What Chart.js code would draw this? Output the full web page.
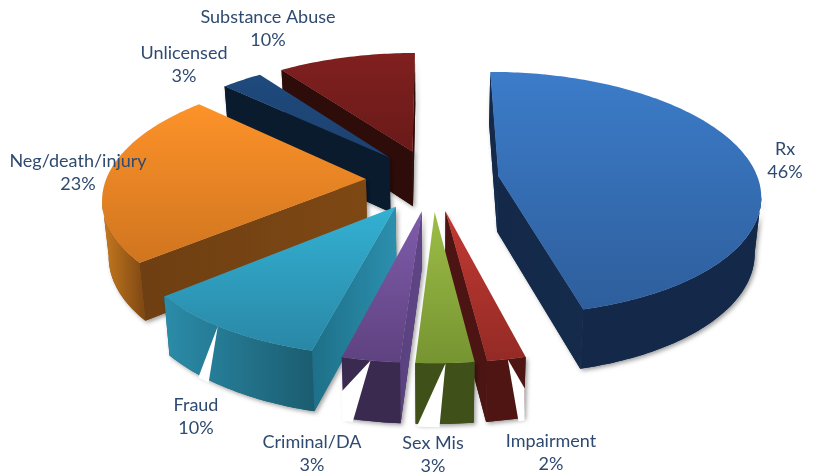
<!DOCTYPE html>
<html>
<head>
<meta charset="utf-8">
<title>Complaint types</title>
<script src="https://cdn.jsdelivr.net/npm/chart.js@4"></script>
<style>
  html, body { margin: 0; padding: 0; background: #fff; }
  #box { width: 817px; height: 475px; }
</style>
</head>
<body>
<div id="box"><canvas id="chart" width="817" height="475"></canvas></div>
<script>
// Share of complaints by type, clockwise from twelve o'clock
const categories = ['Rx', 'Impairment', 'Sex Mis', 'Criminal/DA', 'Fraud', 'Neg/death/injury', 'Unlicensed', 'Substance Abuse'];
const shares = [46, 2, 3, 3, 10, 23, 3, 10];

// Face colours for each slice
const topLight = ['#3c7cc9', '#c23a33', '#9dbd47', '#7f5cab', '#33b1d3', '#fd9229', '#1f4a7d', '#80201f'];
const topDark = ['#2e5e9c', '#942a25', '#769431', '#5f4280', '#2a87a6', '#d0751f', '#1c4170', '#691a19'];
const arcWallLeft = ['#14294a', '#4e1513', '#3f5019', '#3b2a50', '#2b8ca9', '#c87a1e', '#0a1b2e', '#2e0c0a'];
const arcWallRight = ['#14294a', '#4e1513', '#3f5019', '#3b2a50', '#1b5c70', '#7c4713', '#0a1b2e', '#2e0c0a'];
const sideWallLeft = ['#14294a', '#4c1513', '#3f5019', '#5a4180', '#1d7088', '#6e3f12', '#0a1b2e', '#2e0c0a'];
const sideWallRight = ['#152b4b', '#4c1513', '#3f5019', '#5f4585', '#2c8fae', '#7e4814', '#0a1b2e', '#2e0c0a'];

// Breaks in the outer wall: apex on the rim, then corners as [arc fraction, depth fraction]
const wallBreaks = [
  null,
  [[0.47, 0], [0, 0.52], [-0.02, 1.05], [0.14, 1.05]],
  [[0.49, 0], [0.98, 1.05], [0.59, 1.05]],
  [[0.5, 0], [1.02, 0.57], [1.02, 1.05], [0.84, 1.05]],
  [[0.56, 0], [0.74, 1.05], [0.66, 1.05]],
  null, null, null
];

// Label anchors (centre x, first line middle y)
const labelSpots = [[785, 149], [551, 441], [433, 443], [312, 442], [196, 405], [78, 161], [184, 53], [268, 17]];
const labelLeading = 23.5;
const labelFont = '18px Lato';
const labelColor = '#2f4a70';

// Tilted view of the pie plane
const view = { cx: 432.5, cy: 180, a: 260, b: 120, p: 0.141 };
function project(u, v) {
  const w = 1 - view.p * v;
  return { x: view.cx + view.a * u / w, y: view.cy + view.b * v / w };
}
// Point on the lower face below a point of the upper face
function dropped(pt) {
  return { x: pt.x - (pt.x - view.cx) * 0.02, y: pt.y + 50 + 0.03 * pt.y };
}

function tracePoly(ctx, pts) {
  ctx.beginPath();
  pts.forEach((p, i) => (i ? ctx.lineTo(p.x, p.y) : ctx.moveTo(p.x, p.y)));
  ctx.closePath();
}
function xGradient(ctx, pts, left, right) {
  const xs = pts.map(p => p.x);
  const g = ctx.createLinearGradient(Math.min(...xs), 0, Math.max(...xs) + 0.01, 0);
  g.addColorStop(0, left);
  g.addColorStop(1, right);
  return g;
}
function wallQuad(a, b) {
  return [...a, ...b.map(dropped).reverse()];
}

const tiltedPie = {
  id: 'tiltedPie',
  beforeDatasetDraw(chart, args) {
    const ctx = chart.ctx;
    const arcs = chart.getDatasetMeta(args.index).data;
    const parts = arcs.map((arc, i) => {
      const { startAngle, endAngle, outerRadius } = arc.getProps(['startAngle', 'endAngle', 'outerRadius'], true);
      const mid = (startAngle + endAngle) / 2;
      const e = arc.options.offset / outerRadius;
      const ox = e * Math.cos(mid), oy = e * Math.sin(mid);
      const at = t => project(ox + Math.cos(t), oy + Math.sin(t));
      const tip = project(ox, oy);
      const steps = Math.max(8, Math.ceil((endAngle - startAngle) * 180 / Math.PI));
      const rim = [];
      for (let s = 0; s <= steps; s++) rim.push(at(startAngle + (endAngle - startAngle) * s / steps));
      return { i, mid, tip, rim, at, startAngle, endAngle, depthKey: oy + Math.sin(mid) };
    }).sort((a, b) => a.depthKey - b.depthKey);

    parts.forEach(part => {
      const { i, tip, rim, at, startAngle, endAngle } = part;
      const top = [tip, ...rim];
      const walls = [];
      // A face shows when its rim edge runs leftwards in clockwise order
      const first = rim[0], last = rim[rim.length - 1];
      if (first.x < tip.x) walls.push({ pts: wallQuad([tip, first], [tip, first]), l: sideWallLeft[i], r: sideWallRight[i] });
      if (tip.x < last.x) walls.push({ pts: wallQuad([last, tip], [last, tip]), l: sideWallLeft[i], r: sideWallRight[i] });
      const shown = [];
      rim.forEach((p, k) => {
        const onLeftward = (k < rim.length - 1 && rim[k + 1].x < p.x) || (k > 0 && p.x < rim[k - 1].x);
        if (onLeftward) shown.push(p);
      });
      if (shown.length > 1) walls.push({ pts: wallQuad(shown, shown), l: arcWallLeft[i], r: arcWallRight[i] });

      // Soft drop shadow behind the whole solid
      ctx.save();
      ctx.shadowColor = 'rgba(0,0,0,0.38)';
      ctx.shadowBlur = 4;
      ctx.shadowOffsetX = 2;
      ctx.shadowOffsetY = 2;
      ctx.fillStyle = arcWallRight[i];
      walls.forEach(w => { tracePoly(ctx, w.pts); ctx.fill(); });
      ctx.restore();

      walls.forEach(w => {
        tracePoly(ctx, w.pts);
        ctx.fillStyle = xGradient(ctx, w.pts, w.l, w.r);
        ctx.fill();
      });

      if (wallBreaks[i]) {
        const corners = wallBreaks[i].map(([s, d]) => {
          const up = at(startAngle + (endAngle - startAngle) * s);
          const low = dropped(up);
          return { x: up.x + (low.x - up.x) * d, y: up.y + (low.y - up.y) * d };
        });
        tracePoly(ctx, corners);
        ctx.fillStyle = '#ffffff';
        ctx.fill();
      }

      const ys = top.map(p => p.y);
      const grad = ctx.createLinearGradient(0, Math.min(...ys), 0, Math.max(...ys));
      grad.addColorStop(0, topLight[i]);
      grad.addColorStop(1, topDark[i]);
      tracePoly(ctx, top);
      ctx.fillStyle = grad;
      ctx.fill();
    });
    return false;
  },
  afterDatasetsDraw(chart) {
    const ctx = chart.ctx;
    ctx.save();
    ctx.font = labelFont;
    ctx.fillStyle = labelColor;
    ctx.textAlign = 'center';
    ctx.textBaseline = 'middle';
    categories.forEach((name, i) => {
      const [x, y] = labelSpots[i];
      ctx.fillText(name, x, y);
      ctx.fillText(shares[i] + '%', x, y + labelLeading);
    });
    ctx.restore();
  }
};

new Chart(document.getElementById('chart'), {
  type: 'pie',
  data: {
    labels: categories,
    datasets: [{ data: shares, backgroundColor: topLight, borderWidth: 0, offset: 54 }]
  },
  options: {
    responsive: false,
    animation: false,
    rotation: 0,
    layout: { padding: 0 },
    plugins: { legend: { display: false }, tooltip: { enabled: false } }
  },
  plugins: [tiltedPie]
});
</script>
</body>
</html>
